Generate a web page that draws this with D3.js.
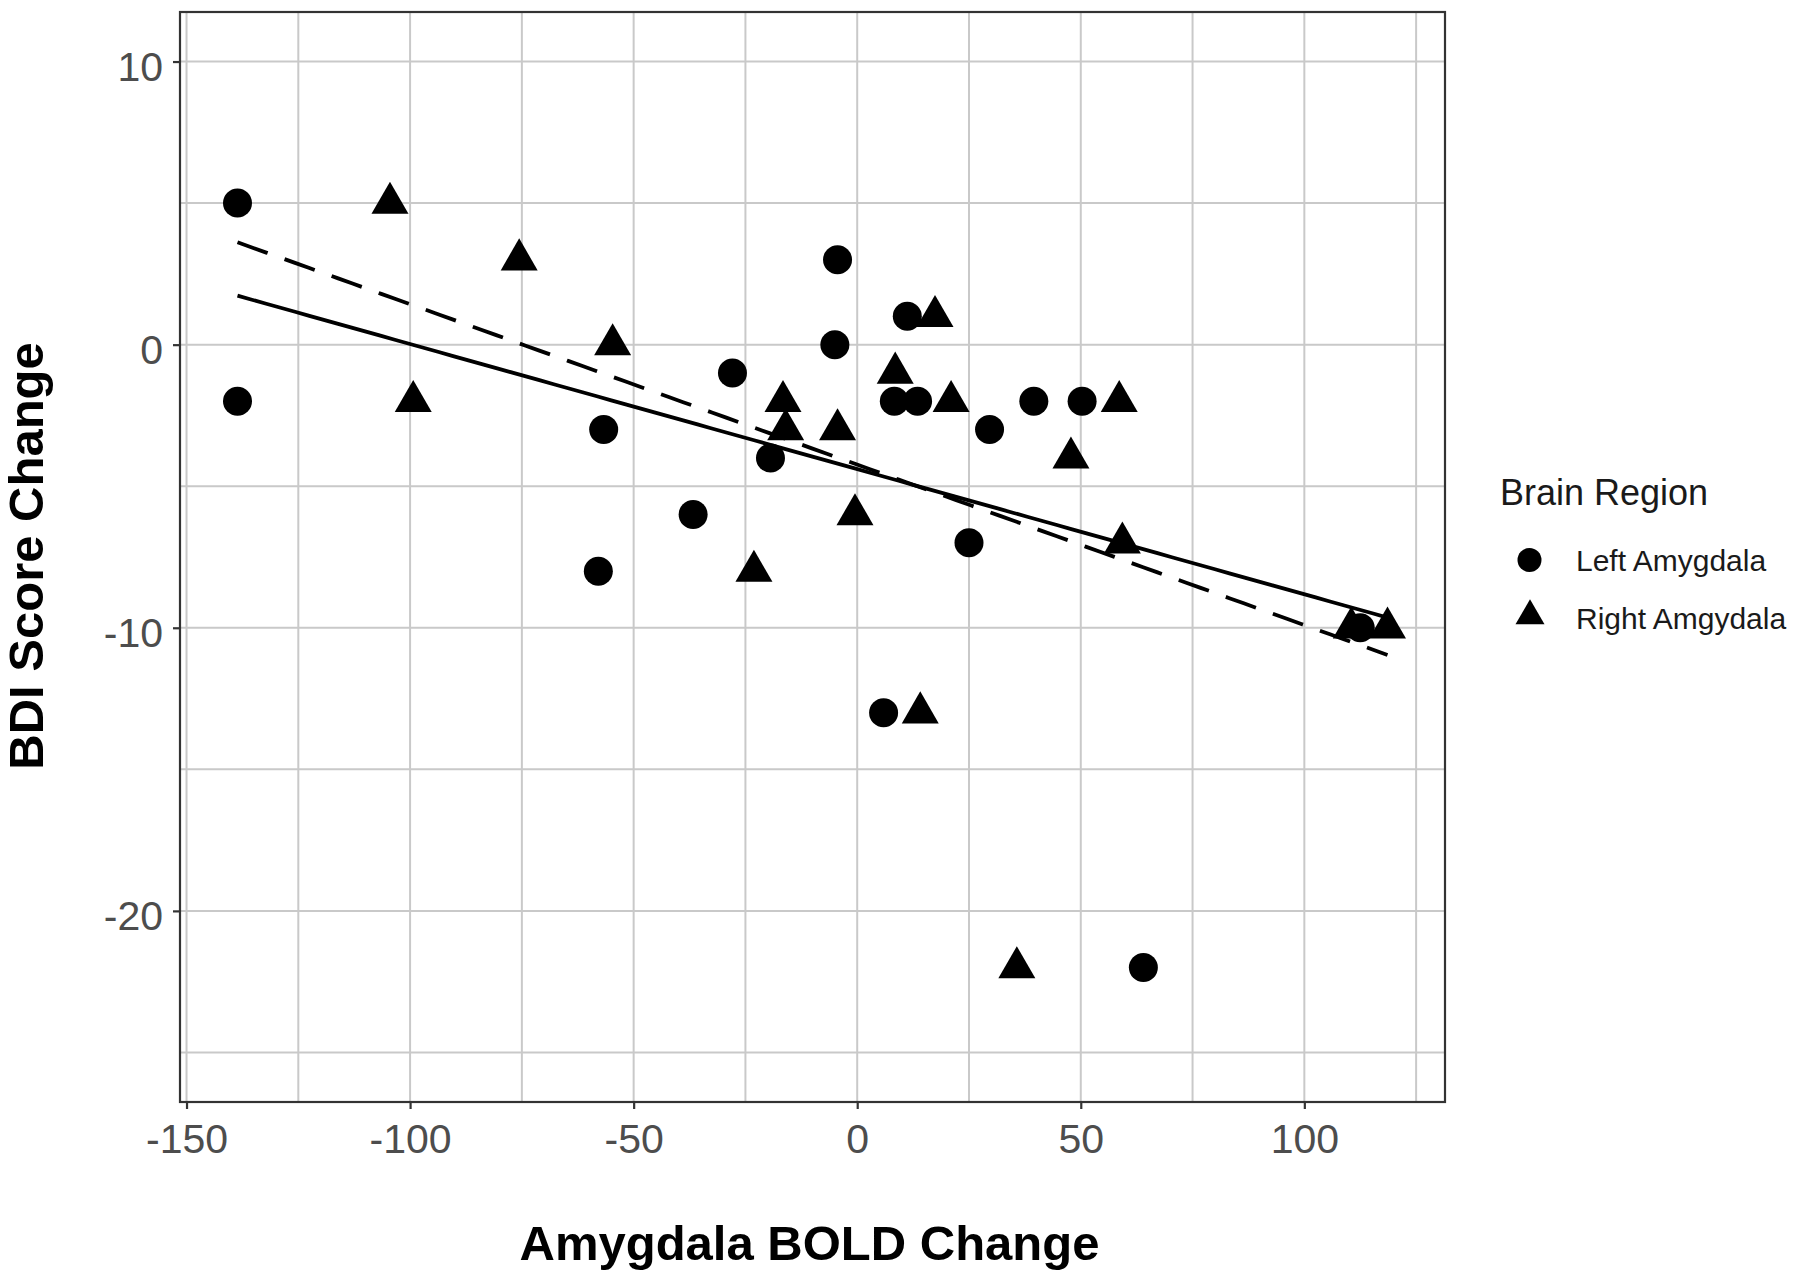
<!DOCTYPE html>
<html>
<head>
<meta charset="utf-8">
<script src="https://cdnjs.cloudflare.com/ajax/libs/d3/7.8.5/d3.min.js"></script>
<style>
  html, body { margin: 0; padding: 0; background: #ffffff; }
  svg { display: block; font-family: "Liberation Sans", Arial, Helvetica, sans-serif; }
</style>
</head>
<body>
<svg id="chart" width="1800" height="1274"></svg>
<script>
// ---- Data ----
const regions = ["Left Amygdala", "Right Amgydala"];

const leftX = [-138.6, -138.6, -4.4, -5.0, 11.2, -27.9, -56.7, -19.4, -36.7, -57.9, 8.3, 13.5, 29.6, 39.5, 50.3, 25.0, 5.9, 64.0, 112.5];
const leftY = [5, -2, 3, 0, 1, -1, -3, -4, -6, -8, -2, -2, -3, -2, -2, -7, -13, -22, -10];

const rightX = [-104.5, -75.6, -99.3, -54.7, 17.4, -16.6, -16.0, -4.4, 8.5, 21.0, 58.6, 47.8, -0.5, 59.3, -23.1, 14.1, 35.7, 110.5, 118.6];
const rightY = [5, 3, -2, 0, 1, -2, -3, -3, -1, -2, -2, -4, -6, -7, -8, -13, -22, -10, -10];

const xMajorTicks = [-150, -100, -50, 0, 50, 100];
const xMinorTicks = [-125, -75, -25, 25, 75, 125];
const yMajorTicks = [10, 0, -10, -20];
const yMinorTicks = [5, -5, -15, -25];
const yLimits = [-25, 10];

const xTitle = "Amygdala BOLD Change";
const yTitle = "BDI Score Change";
const legendTitle = "Brain Region";

// ---- Layout ----
const panel = { left: 180, right: 1445, top: 12, bottom: 1102 };
const svg = d3.select("#chart");

const allX = leftX.concat(rightX);
const xExt = d3.extent(allX);
const xPad = (xExt[1] - xExt[0]) * 0.05;
const yPad = (yLimits[1] - yLimits[0]) * 0.05;

const x = d3.scaleLinear().domain([xExt[0] - xPad, xExt[1] + xPad]).range([panel.left, panel.right]);
const y = d3.scaleLinear().domain([yLimits[0] - yPad, yLimits[1] + yPad]).range([panel.bottom, panel.top]);

const gridColor = "#c9c9c9";
const g = svg.append("g");

// panel background
g.append("rect").attr("x", panel.left).attr("y", panel.top)
  .attr("width", panel.right - panel.left).attr("height", panel.bottom - panel.top)
  .attr("fill", "#ffffff");

// grid lines
const vGrid = xMajorTicks.concat(xMinorTicks);
const hGrid = yMajorTicks.concat(yMinorTicks);
g.selectAll(".vgrid").data(vGrid).enter().append("line")
  .attr("x1", d => x(d)).attr("x2", d => x(d))
  .attr("y1", panel.top).attr("y2", panel.bottom)
  .attr("stroke", gridColor).attr("stroke-width", 2);
g.selectAll(".hgrid").data(hGrid).enter().append("line")
  .attr("x1", panel.left).attr("x2", panel.right)
  .attr("y1", d => y(d)).attr("y2", d => y(d))
  .attr("stroke", gridColor).attr("stroke-width", 2);

// ---- points ----
const ptR = 14.5;
const triW = 37;
function triPath(w) {
  const h = w * Math.sqrt(3) / 2;
  return `M0,${-2 * h / 3}L${w / 2},${h / 3}L${-w / 2},${h / 3}Z`;
}
const leftData = leftX.map((v, i) => ({ x: v, y: leftY[i] }));
const rightData = rightX.map((v, i) => ({ x: v, y: rightY[i] }));

g.selectAll(".lpt").data(leftData).enter().append("circle")
  .attr("cx", d => x(d.x)).attr("cy", d => y(d.y)).attr("r", ptR).attr("fill", "#000");
g.selectAll(".rpt").data(rightData).enter().append("path")
  .attr("d", triPath(triW))
  .attr("transform", d => `translate(${x(d.x)},${y(d.y)})`).attr("fill", "#000");

// ---- linear fits (full range) ----
function lm(xs, ys) {
  const mx = d3.mean(xs), my = d3.mean(ys);
  let sxy = 0, sxx = 0;
  xs.forEach((v, i) => { sxy += (v - mx) * (ys[i] - my); sxx += (v - mx) * (v - mx); });
  const b = sxy / sxx;
  return { a: my - b * mx, b };
}
const fits = [
  { fit: lm(leftX, leftY), dash: null },
  { fit: lm(rightX, rightY), dash: "32,18" }
];
const line = d3.line().x(d => x(d[0])).y(d => y(d[1]));
fits.forEach(f => {
  const pts = d3.range(0, 81).map(i => {
    const xv = xExt[0] + (xExt[1] - xExt[0]) * i / 80;
    return [xv, f.fit.a + f.fit.b * xv];
  });
  const p = g.append("path").attr("d", line(pts))
    .attr("fill", "none").attr("stroke", "#000").attr("stroke-width", 3.8);
  if (f.dash) p.attr("stroke-dasharray", f.dash);
});

// panel border
g.append("rect").attr("x", panel.left).attr("y", panel.top)
  .attr("width", panel.right - panel.left).attr("height", panel.bottom - panel.top)
  .attr("fill", "none").attr("stroke", "#333333").attr("stroke-width", 2.2);

// ---- axes ----
const fmt = d => String(d);
const xAxis = d3.axisBottom(x).tickValues(xMajorTicks).tickSize(7).tickPadding(14).tickFormat(fmt);
const xg = svg.append("g").attr("transform", `translate(0,${panel.bottom})`).call(xAxis);
xg.select(".domain").remove();
xg.selectAll(".tick line").attr("stroke", "#333333").attr("stroke-width", 2.2);
xg.selectAll(".tick text").attr("fill", "#4d4d4d").attr("font-size", 41)
  .attr("font-family", "'Liberation Sans', Arial, sans-serif").attr("dy", null).attr("y", 51);

const yAxis = d3.axisLeft(y).tickValues(yMajorTicks).tickSize(7).tickPadding(10).tickFormat(fmt);
const yg = svg.append("g").attr("transform", `translate(${panel.left},0)`).call(yAxis);
yg.select(".domain").remove();
yg.selectAll(".tick line").attr("stroke", "#333333").attr("stroke-width", 2.2);
yg.selectAll(".tick text").attr("fill", "#4d4d4d").attr("font-size", 41)
  .attr("font-family", "'Liberation Sans', Arial, sans-serif").attr("dy", null).attr("y", 19).attr("x", -17);

// axis titles
svg.append("text").attr("x", (panel.left + panel.right) / 2 - 3).attr("y", 1260)
  .attr("text-anchor", "middle").attr("font-size", 49).attr("font-weight", "bold").attr("fill", "#000")
  .text(xTitle);
svg.append("text")
  .attr("transform", `translate(43,${(panel.top + panel.bottom) / 2 - 1}) rotate(-90)`)
  .attr("text-anchor", "middle").attr("font-size", 49).attr("font-weight", "bold").attr("fill", "#000")
  .text(yTitle);

// ---- legend ----
const lg = svg.append("g");
lg.append("text").attr("x", 1500).attr("y", 505).attr("font-size", 36).attr("fill", "#1a1a1a").text(legendTitle);
const rows = [
  { label: regions[0], cy: 560, shape: "circle", base: 570.7 },
  { label: regions[1], cy: 616, shape: "triangle", base: 629.3 }
];
rows.forEach(r => {
  if (r.shape === "circle") {
    lg.append("circle").attr("cx", 1529.5).attr("cy", r.cy).attr("r", 12).attr("fill", "#000");
  } else {
    lg.append("path").attr("d", triPath(29)).attr("transform", `translate(1530,${r.cy})`).attr("fill", "#000");
  }
  lg.append("text").attr("x", 1576).attr("y", r.base).attr("font-size", 30).attr("fill", "#1a1a1a").text(r.label);
});
</script>
</body>
</html>
